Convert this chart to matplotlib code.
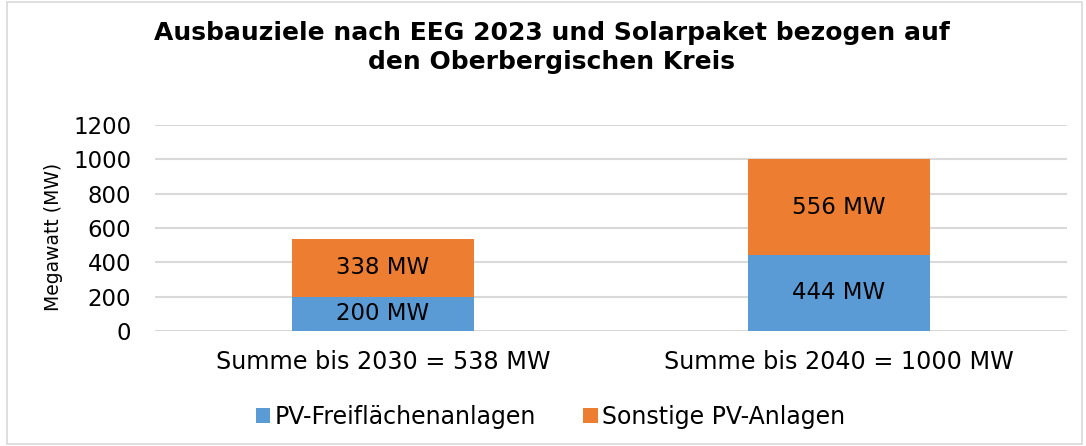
import matplotlib
matplotlib.use("Agg")
import matplotlib.pyplot as plt
from matplotlib.patches import Rectangle

categories = ["Summe bis 2030 = 538 MW", "Summe bis 2040 = 1000 MW"]
freiflaechen = [200, 444]
sonstige = [338, 556]
series_names = ["PV-Freiflächenanlagen", "Sonstige PV-Anlagen"]
yticks = [0, 200, 400, 600, 800, 1000, 1200]

blue = "#5B9BD5"
orange = "#ED7D31"

plt.rcParams['font.family'] = ['DejaVu Sans']
fig = plt.figure(figsize=(10.86, 4.46), dpi=100)
fig.patches.append(Rectangle((0.006, 0.004), 0.99, 0.992, transform=fig.transFigure,
                             fill=False, edgecolor="#D9D9D9", linewidth=1.2))
ax = fig.add_axes([0.1427, 0.2578, 0.8398, 0.4619])

x = list(range(len(categories)))
b1 = ax.bar(x, freiflaechen, width=0.4, color=blue, label=series_names[0], zorder=3)
b2 = ax.bar(x, sonstige, width=0.4, bottom=freiflaechen, color=orange, label=series_names[1], zorder=3)

for rect, v in zip(b1, freiflaechen):
    ax.text(rect.get_x() + rect.get_width() / 2, rect.get_y() + rect.get_height() / 2,
            f"{v} MW", ha="center", va="center", fontsize=16.5, color="black", zorder=4)
for rect, v in zip(b2, sonstige):
    ax.text(rect.get_x() + rect.get_width() / 2, rect.get_y() + rect.get_height() / 2,
            f"{v} MW", ha="center", va="center", fontsize=16.5, color="black", zorder=4)

ax.set_xlim(-0.5, 1.5)
ax.set_ylim(0, 1200)
ax.set_yticks(yticks)
ax.set_yticklabels([str(t) for t in yticks], fontsize=16.5)
ax.set_xticks(x)
ax.set_xticklabels(categories, fontsize=17.2)
ax.tick_params(axis="x", length=0, pad=14)
ax.tick_params(axis="y", length=0, pad=17)
ax.grid(axis="y", color="#D9D9D9", linewidth=1.5, zorder=0)
for s in ax.spines.values():
    s.set_visible(False)

ax.set_ylabel("Megawatt (MW)", fontsize=13.5)
ax.yaxis.set_label_coords(-0.101, 0.455)

fig.text(0.508, 0.893, "Ausbauziele nach EEG 2023 und Solarpaket bezogen auf\nden Oberbergischen Kreis",
         ha="center", va="center", fontsize=18, fontweight="bold", linespacing=1.26)

fig.legend(handles=[b1, b2], labels=series_names, loc="center", bbox_to_anchor=(0.507, 0.066),
           ncol=2, frameon=False, fontsize=17, handlelength=0.6, handleheight=0.6,
           handletextpad=0.2, columnspacing=2.0)

fig.savefig("out.png", dpi=100)
